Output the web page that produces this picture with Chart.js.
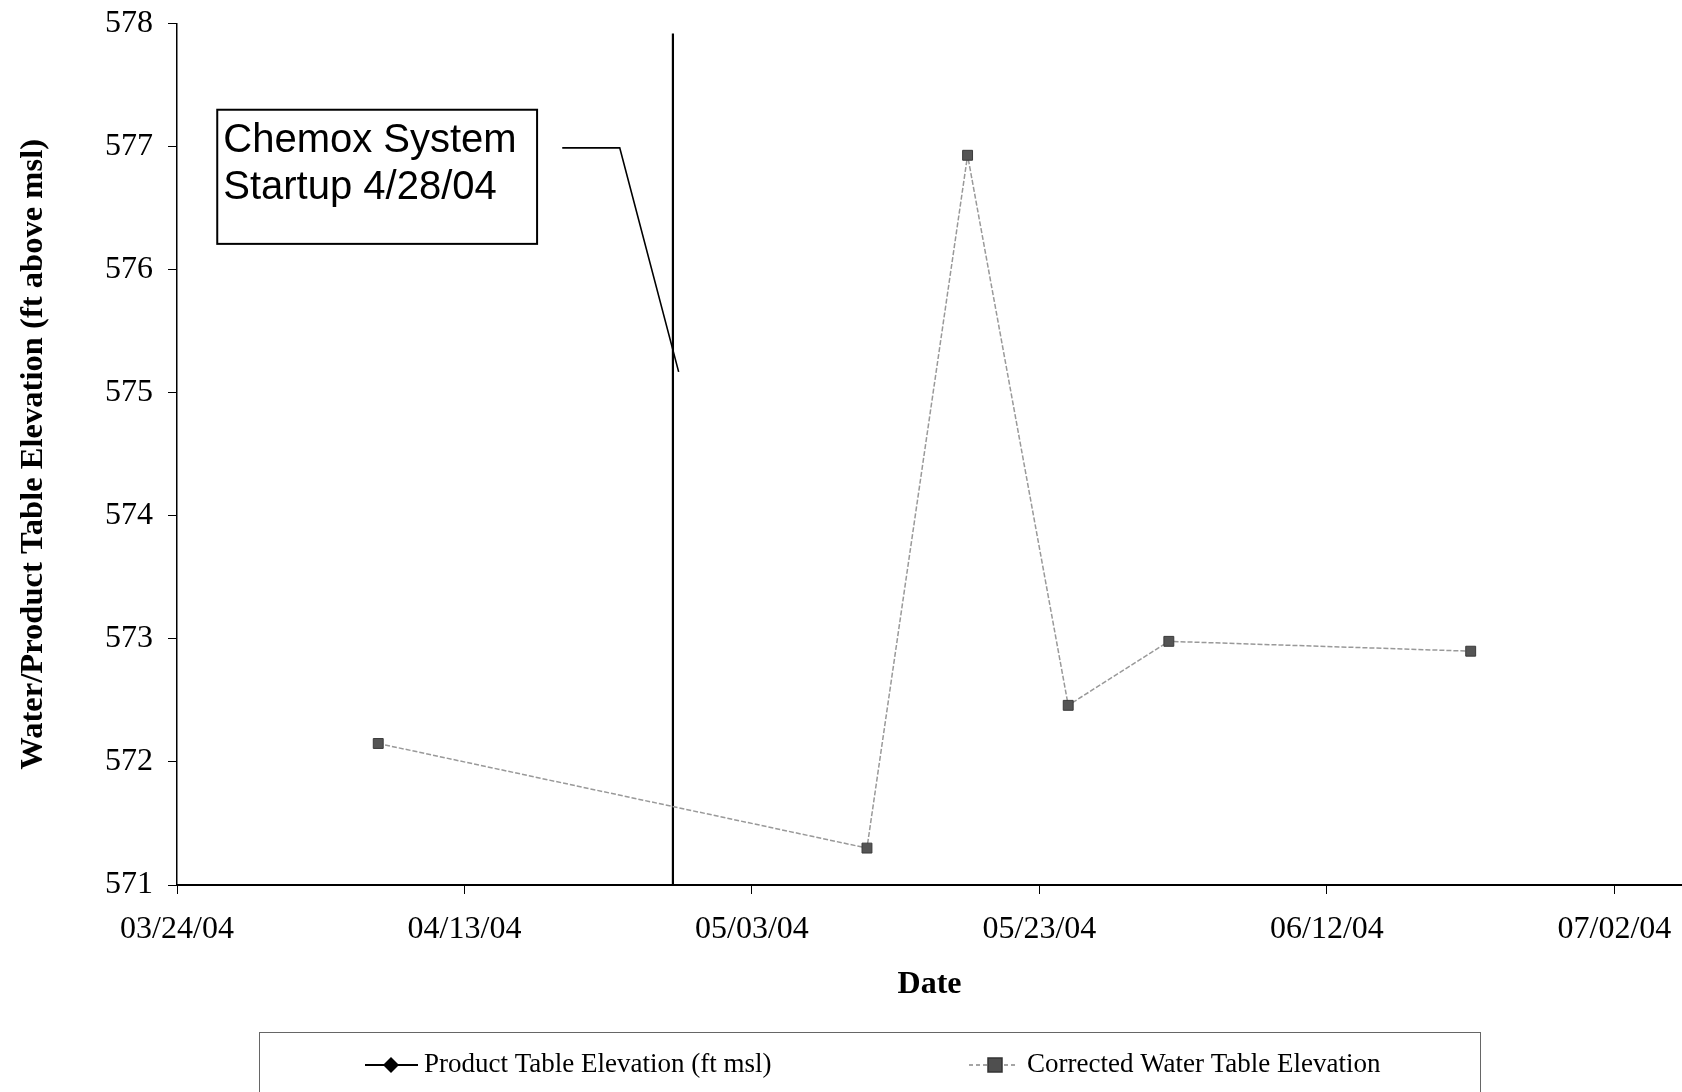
<!DOCTYPE html>
<html>
<head>
<meta charset="utf-8">
<script src="https://cdn.jsdelivr.net/npm/chart.js@4.4.1/dist/chart.umd.min.js"></script>
<style>
  html, body { margin: 0; padding: 0; background: #fff; overflow: hidden; }
  canvas { display: block; }
</style>
</head>
<body>
<canvas id="elev" width="1682" height="1092"></canvas>
<script>
// values
const axisStart = '03/24/04';
const axisEndDays = 104.7;
const sampleDates = ['04/07/04', '05/11/04', '05/18/04', '05/25/04', '06/01/04', '06/22/04'];
const waterElev = [572.15, 571.30, 576.93, 572.46, 572.98, 572.90];
const productDates = [];
const productElev = [];
const startupLineDay = 34.5;          // where the drawn marker line sits (days after axisStart)
const startupSpan = [571, 577.92];
const seriesLabels = ['Product Table Elevation (ft msl)', 'Corrected Water Table Elevation'];
const noteLines = ['Chemox System', 'Startup 4/28/04'];

function parseDate(s) {
  const [m, d, y] = s.split('/').map(Number);
  return new Date(2000 + y, m - 1, d);
}
const t0 = parseDate(axisStart);
const dayOf = s => Math.round((parseDate(s) - t0) / 864e5);
const pad2 = n => String(n).padStart(2, '0');
function fmtDay(v) {
  const d = new Date(t0.getFullYear(), t0.getMonth(), t0.getDate() + v);
  return pad2(d.getMonth() + 1) + '/' + pad2(d.getDate()) + '/' + pad2(d.getFullYear() % 100);
}

const serif = "'Liberation Serif', 'Times New Roman', serif";
const sans = "'Liberation Sans', Arial, sans-serif";

// text box + leader line pointing at the startup line
const noteBox = {
  id: 'noteBox',
  afterDatasetsDraw(chart) {
    const { ctx, scales: { x, y } } = chart;
    const l = x.getPixelForValue(2.8), r = x.getPixelForValue(25.05);
    const t = y.getPixelForValue(577.30), b = y.getPixelForValue(576.21);
    ctx.save();
    ctx.fillStyle = '#fff';
    ctx.fillRect(l, t, r - l, b - t);
    ctx.strokeStyle = '#000';
    ctx.lineWidth = 2;
    ctx.strokeRect(l, t, r - l, b - t);
    ctx.fillStyle = '#000';
    ctx.font = '40px ' + sans;
    ctx.textBaseline = 'alphabetic';
    ctx.fillText(noteLines[0], l + 6, t + 42);
    ctx.fillText(noteLines[1], l + 6, t + 89);
    ctx.lineWidth = 1.6;
    ctx.beginPath();
    const ly = y.getPixelForValue(576.99);
    ctx.moveTo(x.getPixelForValue(26.8), ly);
    ctx.lineTo(x.getPixelForValue(30.8), ly);
    ctx.lineTo(x.getPixelForValue(34.9), y.getPixelForValue(575.17));
    ctx.stroke();
    ctx.restore();
  }
};

// Excel-style legend box under the chart
const boxLegend = {
  id: 'boxLegend',
  afterDraw(chart) {
    const ctx = chart.ctx;
    const cy = 1065;
    ctx.save();
    ctx.strokeStyle = '#666';
    ctx.lineWidth = 1;
    ctx.strokeRect(259.5, 1032.5, 1221, 80);

    // product series
    ctx.strokeStyle = '#000';
    ctx.lineWidth = 2;
    ctx.beginPath(); ctx.moveTo(365, cy); ctx.lineTo(418, cy); ctx.stroke();
    ctx.fillStyle = '#000';
    ctx.beginPath();
    ctx.moveTo(391, cy - 8); ctx.lineTo(399, cy); ctx.lineTo(391, cy + 8); ctx.lineTo(383, cy);
    ctx.closePath(); ctx.fill();

    // water series
    ctx.strokeStyle = '#888';
    ctx.lineWidth = 1.5;
    ctx.setLineDash([4, 3]);
    ctx.beginPath(); ctx.moveTo(969, cy); ctx.lineTo(1017, cy); ctx.stroke();
    ctx.setLineDash([]);
    ctx.fillStyle = '#4f4f4f';
    ctx.fillRect(988, cy - 7, 14, 14);
    ctx.strokeStyle = '#333';
    ctx.strokeRect(988, cy - 7, 14, 14);

    ctx.fillStyle = '#000';
    ctx.font = '27px ' + serif;
    ctx.textBaseline = 'middle';
    ctx.fillText(chart.data.datasets[0].label, 424, cy);
    ctx.fillText(chart.data.datasets[1].label, 1027, cy);
    ctx.restore();
  }
};

new Chart(document.getElementById('elev'), {
  type: 'line',
  data: {
    datasets: [
      {
        label: seriesLabels[0],
        data: productDates.map((d, i) => ({ x: dayOf(d), y: productElev[i] })),
        borderColor: '#000', backgroundColor: '#000',
        borderWidth: 2, pointStyle: 'rectRot', pointRadius: 7
      },
      {
        label: seriesLabels[1],
        data: sampleDates.map((d, i) => ({ x: dayOf(d), y: waterElev[i] })),
        borderColor: '#999', borderWidth: 1.5, borderDash: [5, 2],
        pointStyle: 'rect', pointRadius: 7,
        pointBackgroundColor: '#555', pointBorderColor: '#3a3a3a', pointBorderWidth: 1
      },
      {
        label: 'startup',
        data: startupSpan.map(v => ({ x: startupLineDay, y: v })),
        borderColor: '#000', borderWidth: 2.2, pointRadius: 0
      }
    ]
  },
  options: {
    responsive: false,
    animation: false,
    devicePixelRatio: 1,
    layout: { autoPadding: false, padding: { top: 23.6, bottom: 77, left: 0, right: 0 } },
    plugins: { legend: { display: false }, tooltip: { enabled: false } },
    scales: {
      x: {
        type: 'linear',
        min: 0, max: axisEndDays,
        afterBuildTicks: s => { s.ticks = s.ticks.filter(t => t.value % 20 === 0); },
        afterFit: s => { s.height = 130; s.paddingLeft = 0; s.paddingRight = 0; },
        ticks: {
          stepSize: 20, padding: 16, color: '#000', includeBounds: false,
          font: { family: serif, size: 32 },
          callback: v => fmtDay(v)
        },
        grid: { display: true, drawOnChartArea: false, drawTicks: true, tickLength: 9, color: '#000' },
        border: { display: true, color: '#000', width: 2 },
        title: {
          display: true, text: 'Date', color: '#000',
          font: { family: serif, size: 32, weight: 'bold' },
          padding: { top: 0, bottom: 11 }
        }
      },
      y: {
        min: 571, max: 578,
        afterFit: s => { s.width = 177; s.paddingTop = 0; s.paddingBottom = 0; },
        ticks: {
          stepSize: 1, padding: 15, color: '#000',
          font: { family: serif, size: 32 }
        },
        grid: { display: true, drawOnChartArea: false, drawTicks: true, tickLength: 9, color: '#000' },
        border: { display: true, color: '#000', width: 1.5 },
        title: {
          display: true, text: 'Water/Product Table Elevation (ft above msl)', color: '#000',
          font: { family: serif, size: 32.6, weight: 'bold' },
          padding: { top: 14, bottom: 0 }
        }
      }
    }
  },
  plugins: [noteBox, boxLegend]
});
</script>
</body>
</html>
